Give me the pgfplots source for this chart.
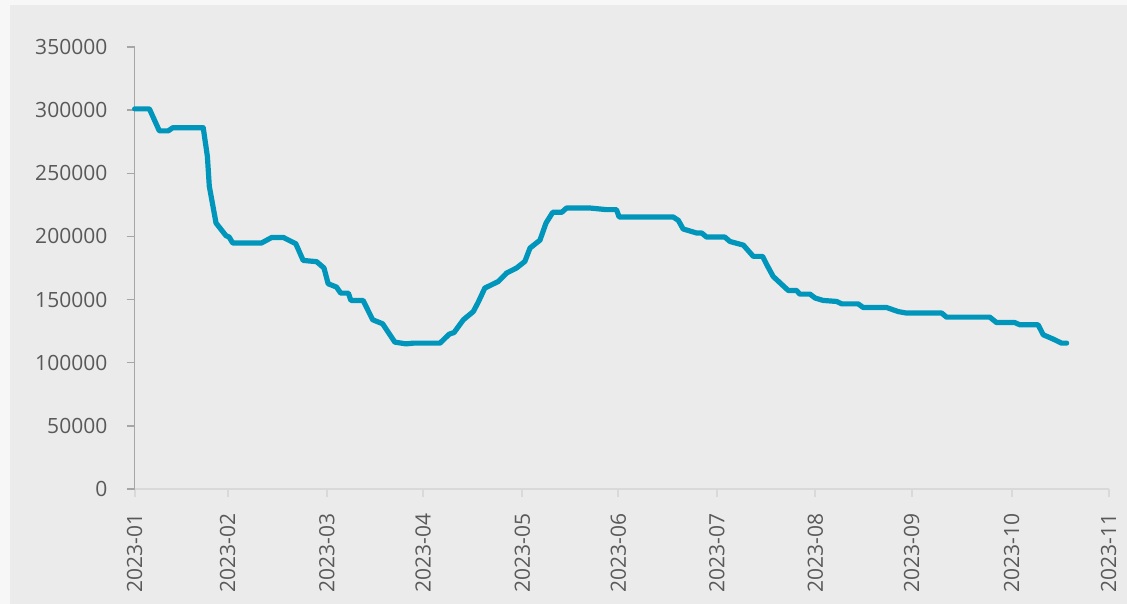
\documentclass[border=0pt]{standalone}
\usepackage{fontspec}
\setmainfont{Open Sans}
\usepackage{pgfplots}
\pgfplotsset{compat=1.18}
\definecolor{outerbg}{HTML}{F7F7F7}
\definecolor{innerbg}{HTML}{EBEBEB}
\definecolor{linec}{RGB}{0,149,187}
\definecolor{txt}{HTML}{595959}
\definecolor{yax}{HTML}{A6A6A6}
\definecolor{xax}{HTML}{D9D9D9}
\pgfplotstableread{
d v
0 301000
4.6 301000
7.7 283600
10.5 283600
11.9 286100
21.4 286100
22.7 263400
23.3 239700
25.4 210600
28.5 200600
29.5 199500
30.6 194800
39.6 194800
42.8 199200
46.4 199200
50.3 194200
52.6 181000
56.8 180000
59.1 175000
60.4 162500
63.0 159900
64.3 155100
66.7 155100
67.5 149300
71.3 149300
74.3 134000
77.4 130800
81.2 116300
84.7 114900
87.0 115500
95.3 115500
98.2 122600
99.7 123900
102.6 134000
105.7 140500
107.2 147700
109.3 159100
113.5 164300
116.1 171000
119.2 175000
121.8 180200
123.4 190800
126.5 197000
128.4 210600
130.5 219100
133.3 219100
134.8 222500
142.1 222500
147.3 221200
150.4 221200
151.2 215400
168.1 215400
169.7 212700
171.2 205900
175.4 202700
177.0 202700
178.5 199500
184.2 199500
185.8 196000
190.0 193100
193.1 184200
196.0 184200
197.3 177600
199.3 168300
204.0 157200
206.6 157200
207.6 154300
210.8 154300
212.4 151200
214.9 149300
219.1 148500
220.7 146600
225.8 146600
227.4 143700
234.7 143700
238.3 140500
240.9 139300
251.9 139300
253.4 136100
266.9 136100
269.0 131800
274.7 131800
276.3 130000
282.0 130000
283.6 122100
286.7 118700
289.3 115500
290.9 115500
}\datatable
\begin{document}
\begin{tikzpicture}
\useasboundingbox (-101pt,-86.25pt) rectangle (744.3pt,366.75pt);
\fill[outerbg] (-101pt,-86.25pt) rectangle (744.3pt,366.75pt);
\fill[innerbg] (-93.5pt,-86.25pt) rectangle (744.3pt,363pt);
\begin{axis}[
  at={(0pt,0pt)}, anchor=south west,
  scale only axis, width=730.5pt, height=331.5pt,
  xmin=0, xmax=304, ymin=0, ymax=350000,
  axis x line*=bottom, axis y line*=left,
  x axis line style={xax, line width=1.5pt},
  y axis line style={yax, line width=1pt},
  xtick={0,29,60,90,121,151,181.7,212.5,242.5,273.7,304},
  xticklabels={2023-01,2023-02,2023-03,2023-04,2023-05,2023-06,2023-07,2023-08,2023-09,2023-10,2023-11},
  xticklabel style={rotate=90, anchor=east, font=\fontsize{15.75}{18}\selectfont, text=txt},
  xticklabel shift=9pt,
  ytick={0,50000,100000,150000,200000,250000,300000,350000},
  yticklabels={0,50000,100000,150000,200000,250000,300000,350000},
  scaled y ticks=false,
  yticklabel style={font=\fontsize{15.75}{18}\selectfont, text=txt},
  yticklabel shift=11pt,
  tick align=outside,
  major tick length=6pt,
  x tick style={xax, line width=1.5pt},
  y tick style={yax, line width=1pt},
  clip=false,
]
\addplot[linec, line width=3.9pt, line join=round, line cap=round] table[x=d, y=v] {\datatable};
\end{axis}
\end{tikzpicture}
\end{document}
